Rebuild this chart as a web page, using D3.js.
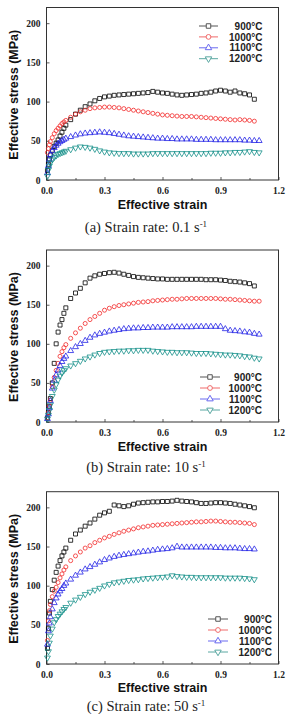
<!DOCTYPE html>
<html><head><meta charset="utf-8">
<script src="https://cdn.jsdelivr.net/npm/d3@7/dist/d3.min.js"></script>
<style>body{margin:0;background:#fff}svg{display:block}</style>
</head><body>
<svg id="chart" width="289" height="714"></svg>
<script>
// ---- data ----
const strain = [0.005,0.01,0.015,0.02,0.03,0.04,0.05,0.06,0.07,0.08,0.09,0.1,
  0.125,0.15,0.175,0.2, 0.225,0.25,0.275,0.3, 0.325,0.35,0.375,0.4, 0.425,0.45,0.475,0.5,
  0.525,0.55,0.575,0.6, 0.625,0.65,0.675,0.7, 0.725,0.75,0.775,0.8, 0.825,0.85,0.875,0.9,
  0.925,0.95,0.975,1.0, 1.025,1.05,1.075,1.1];
const temperatures = ["900°C","1000°C","1100°C","1200°C"];
const xTickValues = [0,0.3,0.6,0.9,1.2];
const xMinorTicks = [0.15,0.45,0.75,1.05];
const yTickValues = [0,50,100,150,200];
const captions = ["(a) Strain rate: 0.1 s","(b) Strain rate: 10 s","(c) Strain rate: 50 s"];

// strain rate 0.1 /s
const rate01_900 = [12,20,27,32,38,43,47,51,56,61,66,70,
  77,84,89,93.5, 97,101,104,106, 107,108,108.5,109, 109.5,110,110.5,111,
  111.5,113,112,111, 110.5,109.5,108.5,108, 108.5,109,109.5,110.5, 111,112,113.5,114.5,
  113.5,112,113.5,111, 110,108.5,103,null];
const rate01_1000 = [35,40,45,49,54,59,63,66,69,72,74,76,
  80,84,87,89, 91,92,92.5,93, 93,92.5,92,91, 90,89,88,87,
  86,85,84,83, 82.5,82,81.5,81, 81,81,80.5,80, 79.5,79,78.5,78,
  77.5,77,76.5,77, 76.5,76,75,null];
const rate01_1100 = [9,18,26,32,37,41,44,46.5,48.5,50,51.5,53,
  55,57,58.5,59.5, 60,60.5,61,60.5, 60,59,58,57, 56,55.5,55,54.5,
  54,53.5,53,53, 52.5,52.5,52,52, 52,52,51.5,51.5, 51.5,51.5,51,51,
  51,51,51,51, 50.5,50.5,50,50];
const rate01_1200 = [5,13,18,22,26,29,31,33,34,35,36,37,
  39,41,42.5,42, 41,39.5,37.5,36, 35,34.5,34,34, 34,33.5,33.5,33.5,
  33.5,34,34,34, 34,34,34,34, 34,34,34,34, 34,34.5,34.5,34.5,
  35,35,35.5,35.5, 36,36.5,35.5,35];

// strain rate 10 /s
const rate10_900 = [5,12,20,30,50,75,100,115,124,131,139,146,
  158,165,171,178, 184,187,189,190, 191,191.5,190.5,189, 187.5,186,185,184.5,
  184,183.5,183,183, 182.5,182.5,182.5,182.5, 182.5,182.5,182.5,182.5, 182,182,182,181.5,
  181,180,179.5,179, 178,177,174,null];
const rate10_1000 = [5,12,20,28,45,57,66,75,84,90,95,99,
  107,114,120,126, 131,135,139,143, 145.5,147.5,149,150, 151,152,153,153.5,
  154,155,155.5,156, 156.5,157,157,157.5, 158,158,158,158, 158,158,158,157.5,
  157,157,156.5,156, 155.5,155,154.5,154.5];
const rate10_1100 = [4,10,18,27,43,53,60,66,72,77,81,84,
  91,96,100,104, 108,111,113,114.5, 116,117,118,119, 119.5,120,120,120.5,
  120.5,121,121,121, 121,121.5,121.5,121.5, 121.5,121.5,122,122, 122,122,122,122,
  119,117,116.5,116, 115,114.5,113,112];
const rate10_1200 = [4,9,15,22,33,41,48,54,59,63,66,68.5,
  72,75,78,81, 83.5,86,88,89.5, 90,90.5,91,91, 91.5,91.5,92,92,
  92,91,90.5,90, 89.5,89.5,89,89, 89,88.5,88,88, 88,87.5,87,86.5,
  86,86,85.5,85, 84,83.5,82,81];

// strain rate 50 /s
const rate50_900 = [20,45,65,80,95,107,117,125,132,138,143,148,
  158,166,171,176, 180,185,190,193, 195,203,202,201, 202,204,205.5,206,
  206.5,207,207,207.5, 207.5,208,209,208, 207.5,207,206,205, 205,205.5,206,206,
  205.5,205,204,203, 202,201,199.5,null];
const rate50_1000 = [30,55,68,76,86,93,98,104,110,115,120,124,
  132,138,143,148, 151,155,158,161, 163,165.5,167.5,169.5, 171,172.5,174,175,
  176,177,177.5,178, 178.5,179,179.5,180, 180.5,181,181.5,181.5, 182,182.5,182.5,182,
  181.5,181,181,180.5, 180,179.5,178,null];
const rate50_1100 = [25,42,52,60,70,78,84,89,93,96,100,103,
  108,113,117,121, 124,127,130,133, 135,137,138.5,139.5, 140.5,141.5,142.5,143.5,
  144,145,146,146.5, 147,148,150,149, 149,149,149,149, 149,149,148.5,148.5,
  148,148,148,147.5, 147,147,146.5,null];
const rate50_1200 = [8,16,27,36,45,53,57,61,64,67,70,72.5,
  78,82,85.5,89, 92,94.5,97,100, 102,104,105,106, 107,107.5,108,109,
  109.5,110,110.5,111, 111.5,113,112,111.5, 111,111,110.5,110.5, 110.5,110.5,110.5,110.5,
  110,110,110,110, 109.5,109,108,null];

// ---- drawing ----
const colors = ["#000000","#f22a2a","#2323e6","#17918a"];
const legendLine = ["#555555","#f06a6a","#6a6af0","#5aa8a2"];
const svg = d3.select("#chart");

const panels = [
  {series:[rate01_900,rate01_1000,rate01_1100,rate01_1200], top:7.5, bottom:180,
   legend:{x1:199,x2:218,tx:262.5,y0:26,dy:10.9}, xTitleY:208.5, capY:232, sup:"-1"},
  {series:[rate10_900,rate10_1000,rate10_1100,rate10_1200], top:250, bottom:422,
   legend:{x1:200,x2:220,tx:262,y0:377,dy:11}, xTitleY:451, capY:472, sup:"-1"},
  {series:[rate50_900,rate50_1000,rate50_1100,rate50_1200], top:491.7, bottom:664,
   legend:{x1:208,x2:228,tx:272,y0:619,dy:11}, xTitleY:692, capY:711, sup:"-1"}
];
const left = 46.5, right = 278.5;

function markerPath(i, size){
  const types = [d3.symbolSquare, d3.symbolCircle, d3.symbolTriangle, d3.symbolTriangle];
  const sizes = [16, 13, 15, 15];
  return d3.symbol().type(types[i]).size(size || sizes[i])();
}
function markerTransform(i, x, y){
  return i === 3 ? `translate(${x},${y}) rotate(180)` : `translate(${x},${y})`;
}

panels.forEach((p, pi) => {
  const x = d3.scaleLinear().domain([0,1.2]).range([left,right]);
  const y = d3.scaleLinear().domain([0,220]).range([p.bottom,p.top]);
  const g = svg.append("g");

  // axes with inward ticks
  const xAxis = g.append("g").attr("transform",`translate(0,${p.bottom})`)
    .call(d3.axisBottom(x).tickValues(xTickValues).tickFormat(d3.format(".1f")).tickSize(-3).tickPadding(7));
  g.append("g").attr("transform",`translate(0,${p.bottom})`)
    .call(d3.axisBottom(x).tickValues(xMinorTicks).tickFormat("").tickSize(-2))
    .select(".domain").remove();
  const yAxis = g.append("g").attr("transform",`translate(${left},0)`)
    .call(d3.axisLeft(y).tickValues(yTickValues).tickFormat(d3.format("d")).tickSize(-3).tickPadding(6));
  g.selectAll(".tick text").attr("font-family","'Liberation Serif','Times New Roman',serif")
    .attr("font-weight","bold").attr("font-size","9.5px").attr("fill","#222");
  g.selectAll(".tick line").attr("stroke","#333").attr("stroke-width",0.8);
  g.selectAll(".domain").remove();
  // frame
  g.append("rect").attr("x",left).attr("y",p.top).attr("width",right-left).attr("height",p.bottom-p.top)
    .attr("fill","none").attr("stroke","#333").attr("stroke-width",1);

  // series markers
  p.series.forEach((vals, si) => {
    const pts = strain.map((s,k)=>[s, vals[k]]).filter(d => d[1] !== null && d[1] !== undefined);
    g.append("g").selectAll("path").data(pts).join("path")
      .attr("d", markerPath(si))
      .attr("transform", d => markerTransform(si, x(d[0]), y(d[1])))
      .attr("fill","none").attr("stroke",colors[si]).attr("stroke-width",0.8);
  });

  // legend
  const L = p.legend;
  temperatures.forEach((t, si) => {
    const ly = L.y0 + si*L.dy;
    g.append("line").attr("x1",L.x1).attr("x2",L.x2).attr("y1",ly).attr("y2",ly)
      .attr("stroke",legendLine[si]).attr("stroke-width",1);
    g.append("path").attr("d",markerPath(si, si===0?20:(si===1?18:18)))
      .attr("transform",markerTransform(si,(L.x1+L.x2)/2,ly))
      .attr("fill","#fff").attr("stroke",legendLine[si]).attr("stroke-width",1);
    g.append("text").attr("x",L.tx).attr("y",ly+3.6).attr("text-anchor","end")
      .attr("font-family","'Liberation Sans',Arial,sans-serif").attr("font-weight","bold")
      .attr("font-size","10px").attr("fill","#222").text(t);
  });

  // axis titles
  g.append("text").attr("x",(left+right)/2).attr("y",p.xTitleY).attr("text-anchor","middle")
    .attr("font-family","'Liberation Sans',Arial,sans-serif").attr("font-weight","bold")
    .attr("font-size","12.5px").attr("fill","#111").text("Effective strain");
  const cy = (p.top+p.bottom)/2 + 1;
  g.append("text").attr("transform",`translate(17.5,${cy}) rotate(-90)`).attr("text-anchor","middle")
    .attr("font-family","'Liberation Sans',Arial,sans-serif").attr("font-weight","bold")
    .attr("font-size","12.5px").attr("fill","#111").text("Effective stress (MPa)");

  // caption
  const cap = g.append("text").attr("x",146).attr("y",p.capY).attr("text-anchor","middle")
    .attr("font-family","'Liberation Serif','Times New Roman',serif").attr("font-size","14.5px").attr("fill","#222");
  cap.append("tspan").text(captions[pi]);
  cap.append("tspan").attr("dy",-5).attr("font-size","9px").text(p.sup);
});
</script>
</body></html>
